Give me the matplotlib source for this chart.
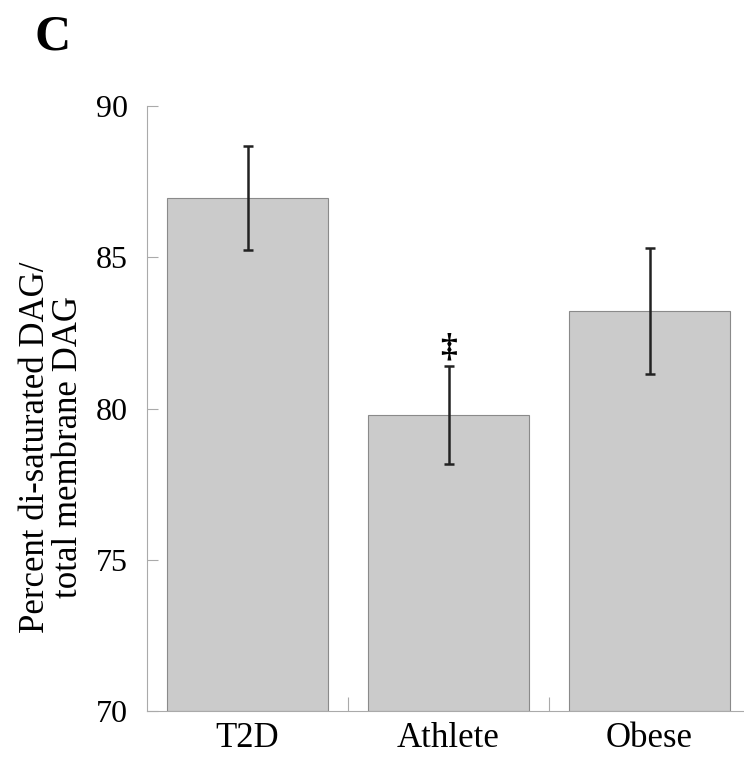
import matplotlib.pyplot as plt

groups = ['T2D', 'Athlete', 'Obese']
means = [86.97, 79.78, 83.22]
errors = [1.72, 1.61, 2.07]
marks = ['', '\u2021', '']

plt.rcParams['font.family'] = ['Liberation Serif', 'DejaVu Serif']

fig = plt.figure(figsize=(7.44, 7.62), dpi=100)
ax = fig.add_axes([0.1976, 0.0669, 0.8105, 0.794])

x = range(len(groups))
ax.bar(x, [m - 70 for m in means], bottom=70, width=0.8, color='#cbcbcb',
       edgecolor='#8a8a8a', linewidth=0.8)
ax.errorbar(x, means, yerr=errors, fmt='none', ecolor='#222222',
            elinewidth=1.8, capsize=3.5, capthick=1.8)

for i, (m, e, s) in enumerate(zip(means, errors, marks)):
    if s:
        ax.text(i, m + e + 0.1, s, ha='center', va='bottom', fontsize=24,
                fontweight='bold')

ax.set_xlim(-0.5, 2.5)
ax.set_ylim(70, 90)
ax.set_yticks([70, 75, 80, 85, 90])
ax.set_xticks(list(x))
ax.set_xticklabels(groups)
ax.set_xticks([0.5, 1.5], minor=True)
ax.tick_params(axis='x', which='major', length=0, pad=8, labelsize=25)
ax.tick_params(axis='x', which='minor', direction='in', length=10,
               color='#aaaaaa', width=0.8)
ax.tick_params(axis='y', direction='in', length=8, color='#aaaaaa',
               width=0.8, labelsize=23, pad=14)

for side in ['top', 'right']:
    ax.spines[side].set_visible(False)
for side in ['left', 'bottom']:
    ax.spines[side].set_color('#aaaaaa')
    ax.spines[side].set_linewidth(0.8)

ax.set_ylabel('Percent di-saturated DAG/\ntotal membrane DAG', fontsize=25,
              linespacing=1.0)
ax.yaxis.set_label_coords(-0.103, 0.436)

fig.text(0.046, 0.981, 'C', fontsize=36, fontweight='bold', va='top')

fig.savefig('out.png', dpi=100)
